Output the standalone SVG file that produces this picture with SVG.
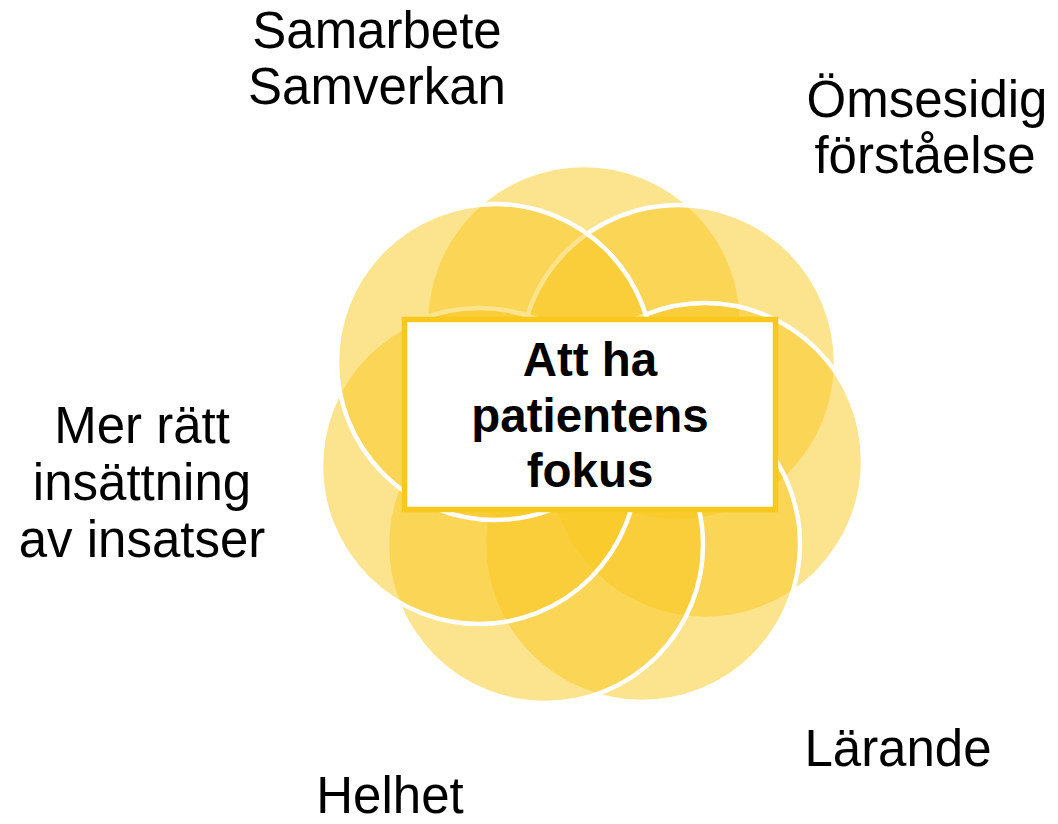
<svg xmlns="http://www.w3.org/2000/svg" width="1058" height="824" viewBox="0 0 1058 824">
<style>
.petal{fill:#F9C81E;fill-opacity:0.5;stroke:#FFFFFF;stroke-width:4.5}
.lbl{font-family:"Liberation Sans",Arial,sans-serif;font-size:51px;fill:#000000;text-anchor:middle}
.ctr{font-family:"Liberation Sans",Arial,sans-serif;font-size:47.5px;font-weight:bold;fill:#000000;text-anchor:middle}
</style>
<rect width="1058" height="824" fill="#FFFFFF"/>
<g id="flower">
<circle id="c-top" class="petal" cx="584" cy="323" r="158"/>
<circle id="c-upper-right" class="petal" cx="678" cy="363" r="158"/>
<circle id="c-right" class="petal" cx="705" cy="461" r="158"/>
<circle id="c-lower-right" class="petal" cx="642" cy="544" r="158"/>
<circle id="c-bottom" class="petal" cx="545" cy="545" r="158"/>
<circle id="c-left" class="petal" cx="479" cy="466" r="158"/>
<circle id="c-upper-left" class="petal" cx="495" cy="362" r="158"/>
</g>
<g id="connectors"></g>
<g id="center">
<rect x="404.5" y="319.5" width="371" height="190" fill="#FFFFFF" stroke="#F9C81E" stroke-width="5.5"/>
<text class="ctr" x="590" y="376">Att ha</text>
<text class="ctr" x="590" y="431.5">patientens</text>
<text class="ctr" x="590" y="487">fokus</text>
</g>
<g id="samarbete">
<text class="lbl" x="377" y="48">Samarbete</text>
<text class="lbl" x="377" y="104">Samverkan</text>
</g>
<g id="omsesidig">
<text class="lbl" x="927" y="117">Ömsesidig</text>
<text class="lbl" x="925" y="173">förståelse</text>
</g>
<g id="mer-ratt">
<text class="lbl" x="142" y="443">Mer rätt</text>
<text class="lbl" x="142" y="500">insättning</text>
<text class="lbl" x="142" y="557">av insatser</text>
</g>
<g id="larande">
<text class="lbl" x="898" y="766">Lärande</text>
</g>
<g id="helhet">
<text class="lbl" x="390" y="813">Helhet</text>
</g>
</svg>
